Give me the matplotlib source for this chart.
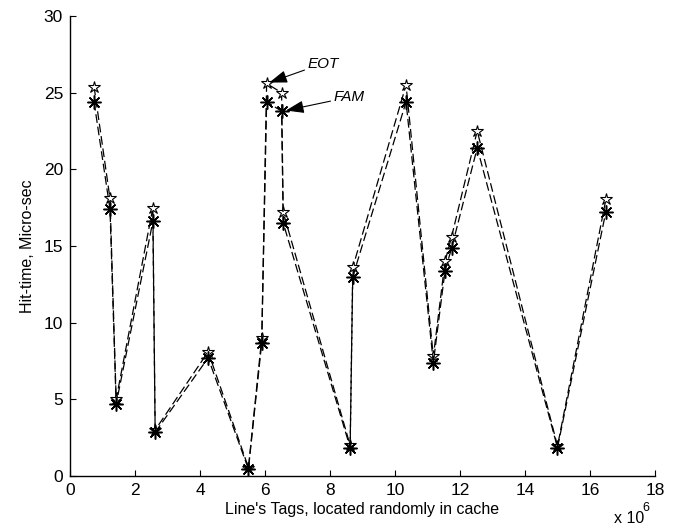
import matplotlib
matplotlib.use("Agg")
import matplotlib.pyplot as plt

plt.rcParams['font.family'] = ['Liberation Sans', 'DejaVu Sans']

# x values in units of 1e6
tags = [0.74, 1.23, 1.42, 2.55, 2.62, 4.25, 5.49, 5.90, 6.05, 6.51, 6.56,
        8.62, 8.70, 10.34, 11.18, 11.54, 11.74, 12.53, 15.00, 16.49]
eot = [25.4, 18.1, 5.0, 17.5, 3.0, 8.1, 0.55, 9.0, 25.6, 25.0, 17.2,
       2.0, 13.6, 25.5, 7.8, 14.0, 15.6, 22.5, 1.95, 18.05]
fam = [24.4, 17.4, 4.7, 16.6, 2.85, 7.7, 0.45, 8.7, 24.4, 23.8, 16.5,
       1.85, 13.0, 24.4, 7.4, 13.4, 14.85, 21.4, 1.85, 17.25]

fig = plt.figure(figsize=(6.83, 5.27), dpi=100)
ax = fig.add_axes([0.1025, 0.0968, 0.8565, 0.8728])

ax.plot(tags, eot, color='black', linestyle=(0, (7, 3)), linewidth=0.9,
        marker='*', markersize=9, markerfacecolor='white',
        markeredgecolor='black', markeredgewidth=0.8)
ax.plot(tags, fam, color='black', linestyle=(0, (7, 3)), linewidth=0.9,
        marker=(8, 2, 0), markersize=10, markeredgecolor='black',
        markeredgewidth=1.1)

ax.set_xlim(0, 18)
ax.set_ylim(0, 30)
ax.set_xticks(range(0, 19, 2))
ax.set_yticks(range(0, 31, 5))
ax.spines['top'].set_visible(False)
ax.spines['right'].set_visible(False)
ax.spines['left'].set_linewidth(1.0)
ax.spines['bottom'].set_linewidth(1.0)
ax.tick_params(direction='in', length=4, labelsize=12.5)
ax.tick_params(axis='x', pad=5)
ax.tick_params(axis='y', pad=5)

ax.set_xlabel("Line's Tags, located randomly in cache", fontsize=11.5, labelpad=3)
ax.set_ylabel("Hit-time, Micro-sec", fontsize=11.5, labelpad=6)

fig.text(0.899, 0.002, "x 10", fontsize=11.5, ha='left', va='bottom')
fig.text(0.94, 0.025, "6", fontsize=9, ha='left', va='bottom')

arrowprops = dict(arrowstyle='-|>,head_length=1.0,head_width=0.35',
                  color='black', lw=0.8, shrinkA=0, shrinkB=2)
ax.annotate('EOT', xy=(tags[8], eot[8]), xytext=(7.3, 26.9),
            fontsize=11, style='italic', va='center', ha='left',
            arrowprops=arrowprops)
ax.annotate('FAM', xy=(tags[9] + 0.05, fam[9]), xytext=(8.1, 24.7),
            fontsize=11, style='italic', va='center', ha='left',
            arrowprops=arrowprops)

fig.savefig('out.png', dpi=100)
